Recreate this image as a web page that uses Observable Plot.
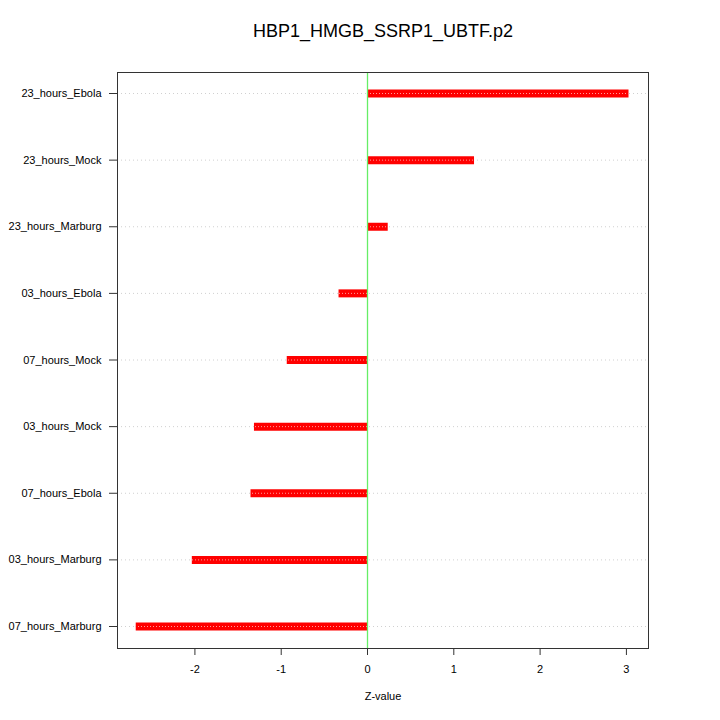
<!DOCTYPE html>
<html>
<head>
<meta charset="utf-8">
<script src="https://cdn.jsdelivr.net/npm/d3@7"></script>
<script src="https://cdn.jsdelivr.net/npm/@observablehq/plot@0.6"></script>
<style>
  html, body { margin: 0; padding: 0; background: #fff; }
  #chart { width: 720px; height: 720px; }
</style>
</head>
<body>
<div id="chart"></div>
<script>
const title = "HBP1_HMGB_SSRP1_UBTF.p2";
const xLabel = "Z-value";
const categories = [
  "23_hours_Ebola", "23_hours_Mock", "23_hours_Marburg", "03_hours_Ebola",
  "07_hours_Mock", "03_hours_Mock", "07_hours_Ebola", "03_hours_Marburg", "07_hours_Marburg"
];
const values = [3.03, 1.24, 0.24, -0.33, -0.93, -1.31, -1.35, -2.03, -2.68];
const xTicks = [-2, -1, 0, 1, 2, 3];
const zeroLine = [0];

const data = categories.map((c, i) => ({ name: c, value: values[i] }));
const font = "'Liberation Sans', Arial, Helvetica, sans-serif";

const chart = Plot.plot({
  width: 720,
  height: 720,
  marginLeft: 117,
  marginRight: 72,
  marginTop: 72,
  marginBottom: 72,
  style: { fontFamily: font, fontSize: "11px", color: "#000", background: "#fff" },
  x: { domain: [-2.897, 3.256], ticks: xTicks, label: null },
  y: { type: "point", domain: categories, range: [93, 626], padding: 0, round: false, label: null },
  marks: [
    Plot.ruleY(categories, { y: d => d, stroke: "#d0d0d0", strokeWidth: 1, strokeDasharray: "1,3" }),
    Plot.ruleY(data, { y: "name", x1: 0, x2: "value", stroke: "#ff0000", strokeWidth: 8 }),
    Plot.ruleY(data, { y: "name", x1: 0, x2: "value", stroke: "#ff9a9a", strokeWidth: 1, strokeDasharray: "1,2" }),
    Plot.ruleX(zeroLine, { x: d => d, stroke: "#66ee66", strokeWidth: 1.3 }),
    Plot.frame({ stroke: "#333", strokeWidth: 1 }),
    Plot.axisX({ ticks: xTicks, tickFormat: d => String(d), tickSize: 7, tickPadding: 10, stroke: "#333", fontSize: 11, label: null }),
    Plot.axisY({ tickSize: 8, tickPadding: 8, stroke: "#333", fontSize: 11, label: null }),
    Plot.text([title], { frameAnchor: "top", dy: -48, fontSize: 18, fill: "#000" }),
    Plot.text([xLabel], { frameAnchor: "bottom", dy: 51, fontSize: 11, fill: "#000" })
  ]
});
document.getElementById("chart").appendChild(chart);
</script>
</body>
</html>
